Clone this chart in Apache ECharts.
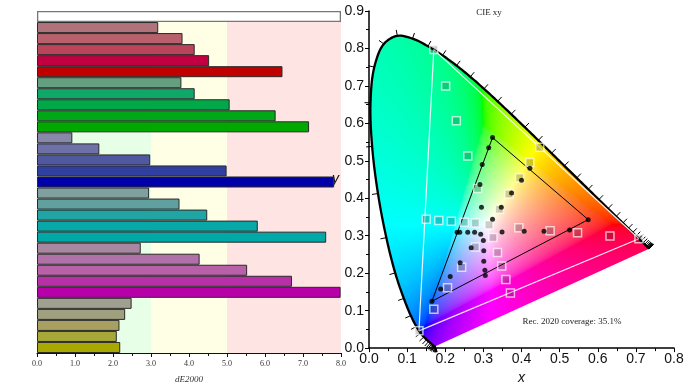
<!DOCTYPE html>
<html><head><meta charset="utf-8">
<script src="https://cdn.jsdelivr.net/npm/echarts@6/dist/echarts.min.js"></script>
<style>html,body{margin:0;padding:0;background:#fff}#c{width:693px;height:390px}</style>
</head><body><div id="c"></div>
<script>
// ---------------- DATA ----------------
const categories = ['White',
  'Red 20%','Red 40%','Red 60%','Red 80%','Red 100%',
  'Green 20%','Green 40%','Green 60%','Green 80%','Green 100%',
  'Blue 20%','Blue 40%','Blue 60%','Blue 80%','Blue 100%',
  'Cyan 20%','Cyan 40%','Cyan 60%','Cyan 80%','Cyan 100%',
  'Magenta 20%','Magenta 40%','Magenta 60%','Magenta 80%','Magenta 100%',
  'Yellow 20%','Yellow 40%','Yellow 60%','Yellow 80%','Yellow 100%'];
const dE2000 = [8.0,
  3.19, 3.83, 4.15, 4.53, 6.46,
  3.80, 4.15, 5.07, 6.28, 7.16,
  0.93, 1.64, 2.98, 4.99, 7.82,
  2.95, 3.75, 4.48, 5.81, 7.61,
  2.73, 4.28, 5.53, 6.71, 7.99,
  2.49, 2.32, 2.17, 2.10, 2.19];
const dEBandStart = [0, 3, 5];
const dEBandEnd = [3, 5, 8];
const dETicks = [0, 1, 2, 3, 4, 5, 6, 7, 8];

// CIE 1931 spectral locus, 380-700 nm every 5 nm
const locusNm = [380,385,390,395,400,405,410,415,420,425,430,435,440,445,450,455,460,465,470,475,480,485,490,495,500,505,510,515,520,525,530,535,540,545,550,555,560,565,570,575,580,585,590,595,600,605,610,615,620,625,630,635,640,645,650,655,660,665,670,675,680,685,690,695,700];
const locusX = [0.1741,0.1740,0.1738,0.1736,0.1733,0.1730,0.1726,0.1721,0.1714,0.1703,0.1689,0.1669,0.1644,0.1611,0.1566,0.1510,0.1440,0.1355,0.1241,0.1096,0.0913,0.0687,0.0454,0.0235,0.0082,0.0039,0.0139,0.0389,0.0743,0.1142,0.1547,0.1929,0.2296,0.2658,0.3016,0.3373,0.3731,0.4087,0.4441,0.4788,0.5125,0.5448,0.5752,0.6029,0.6270,0.6482,0.6658,0.6801,0.6915,0.7006,0.7079,0.7140,0.7190,0.7230,0.7260,0.7283,0.7300,0.7311,0.7320,0.7327,0.7334,0.7340,0.7344,0.7346,0.7347];
const locusY = [0.0050,0.0050,0.0049,0.0049,0.0048,0.0048,0.0048,0.0048,0.0051,0.0058,0.0069,0.0086,0.0109,0.0138,0.0177,0.0227,0.0297,0.0399,0.0578,0.0868,0.1327,0.2007,0.2950,0.4127,0.5384,0.6548,0.7502,0.8120,0.8338,0.8262,0.8059,0.7816,0.7543,0.7243,0.6923,0.6589,0.6245,0.5896,0.5547,0.5202,0.4866,0.4544,0.4242,0.3965,0.3725,0.3514,0.3340,0.3197,0.3083,0.2993,0.2920,0.2859,0.2809,0.2770,0.2740,0.2717,0.2700,0.2689,0.2680,0.2673,0.2666,0.2660,0.2656,0.2654,0.2653];

// Rec. 2020 primaries (closed triangle)
const rec2020X = [0.708, 0.170, 0.131, 0.708];
const rec2020Y = [0.292, 0.797, 0.046, 0.292];

// Targets (squares): white, red, green, blue, cyan, magenta, yellow sweeps
const targetX = [0.3147,
  0.393, 0.475, 0.547, 0.632, 0.708,
  0.285, 0.259, 0.229, 0.201, 0.170,
  0.279, 0.243, 0.206, 0.170, 0.131,
  0.279, 0.250, 0.216, 0.183, 0.150,
  0.325, 0.337, 0.348, 0.359, 0.371,
  0.342, 0.367, 0.395, 0.4215, 0.448];
const targetY = [0.329,
  0.321, 0.313, 0.308, 0.299, 0.292,
  0.426, 0.513, 0.607, 0.700, 0.797,
  0.270, 0.216, 0.161, 0.104, 0.046,
  0.334, 0.336, 0.339, 0.341, 0.344,
  0.295, 0.255, 0.219, 0.183, 0.147,
  0.371, 0.4116, 0.4545, 0.4958, 0.536];

// Measured (dots)
const measuredX = [
  0.349, 0.407, 0.459, 0.526, 0.575,
  0.295, 0.291, 0.297, 0.314, 0.324,
  0.268, 0.239, 0.213, 0.188, 0.165,
  0.293, 0.277, 0.259, 0.238, 0.231,
  0.300, 0.301, 0.301, 0.304, 0.305,
  0.324, 0.347, 0.374, 0.400, 0.422];
const measuredY = [
  0.310, 0.312, 0.312, 0.315, 0.343,
  0.376, 0.437, 0.490, 0.535, 0.562,
  0.268, 0.228, 0.191, 0.158, 0.125,
  0.304, 0.309, 0.309, 0.309, 0.309,
  0.287, 0.260, 0.232, 0.208, 0.194,
  0.344, 0.376, 0.414, 0.448, 0.480];

// Measured gamut triangle (blue -> green -> red -> blue)
const gamutX = [0.165, 0.324, 0.575, 0.165];
const gamutY = [0.125, 0.562, 0.343, 0.125];

const xTicksCIE = [0, 0.1, 0.2, 0.3, 0.4, 0.5, 0.6, 0.7, 0.8];
const yTicksCIE = [0, 0.1, 0.2, 0.3, 0.4, 0.5, 0.6, 0.7, 0.8, 0.9];
const chartTitle = 'CIE xy';
const coverageText = 'Rec. 2020 coverage: 35.1%';

// ---------------- STYLES ----------------
const barColors = ['#ffffff',
  '#b0737b','#b8606c','#bb445a','#c00040','#c00000',
  '#64a080','#10a868','#00a848','#00a818','#00a800',
  '#8888a8','#6e70a8','#5058a0','#3040a0','#0000a8',
  '#80a0a0','#60a0a0','#20a4a4','#08a8a8','#00a8a8',
  '#a888a0','#b070a8','#b860a8','#b830a8','#b800a8',
  '#a0a090','#a0a080','#a8a060','#a8a838','#a8a800'];
const bandColors = ['#e6ffe6', '#ffffe6', '#ffe4e4'];
const SERIF = '"Liberation Serif","Times New Roman",serif';
const SANS = '"Liberation Sans",Arial,sans-serif';

// ---------------- HELPERS ----------------
function zip(a, b) { return a.map((v, i) => [v, b[i]]); }
function xyToRGB(x, y) {
  const X = x / y, Y = 1, Z = (1 - x - y) / y;
  let r = 3.2406 * X - 1.5372 * Y - 0.4986 * Z;
  let g = -0.9689 * X + 1.8758 * Y + 0.0415 * Z;
  let b = 0.0557 * X - 0.2040 * Y + 1.0570 * Z;
  const m = Math.min(r, g, b);
  if (m < 0) { r -= m; g -= m; b -= m; }
  const M = Math.max(r, g, b) || 1;
  const gam = v => v <= 0.0031308 ? 12.92 * v : 1.055 * Math.pow(v, 1 / 2.4) - 0.055;
  return [gam(r / M) * 255, gam(g / M) * 255, gam(b / M) * 255];
}
// centripetal Catmull-Rom smoothing of pixel points (rendering only)
function smoothPath(pts, seg) {
  const n = pts.length, out = [];
  const P = i => {
    if (i < 0) return [2 * pts[0][0] - pts[1][0], 2 * pts[0][1] - pts[1][1]];
    if (i >= n) return [2 * pts[n - 1][0] - pts[n - 2][0], 2 * pts[n - 1][1] - pts[n - 2][1]];
    return pts[i];
  };
  const td = (a, b) => Math.pow(Math.max(Math.hypot(b[0] - a[0], b[1] - a[1]), 1e-4), 0.5);
  const lerp = (a, b, ta, tb, t) => [
    ((tb - t) * a[0] + (t - ta) * b[0]) / (tb - ta),
    ((tb - t) * a[1] + (t - ta) * b[1]) / (tb - ta)];
  for (let i = 0; i < n - 1; i++) {
    const p0 = P(i - 1), p1 = P(i), p2 = P(i + 1), p3 = P(i + 2);
    const t0 = 0, t1 = t0 + td(p0, p1), t2 = t1 + td(p1, p2), t3 = t2 + td(p2, p3);
    for (let s = 0; s < seg; s++) {
      const t = t1 + (t2 - t1) * s / seg;
      const A1 = lerp(p0, p1, t0, t1, t), A2 = lerp(p1, p2, t1, t2, t), A3 = lerp(p2, p3, t2, t3, t);
      const B1 = lerp(A1, A2, t0, t2, t), B2 = lerp(A2, A3, t1, t3, t);
      out.push(lerp(B1, B2, t1, t2, t));
    }
  }
  out.push(pts[n - 1]);
  return out;
}
let fillCache = null;
function buildFill(w, h, dense, ox, oy) {
  const tmp = document.createElement('canvas');
  tmp.width = w; tmp.height = h;
  const tctx = tmp.getContext('2d');
  const img = tctx.createImageData(w, h);
  for (let j = 0; j < h; j++) {
    const y = Math.max(0.9 * (1 - (j + 0.5) / h), 0.002);
    for (let i = 0; i < w; i++) {
      const x = 0.8 * (i + 0.5) / w;
      const k = (j * w + i) * 4;
      const c = xyToRGB(x, y);
      img.data[k] = c[0]; img.data[k + 1] = c[1]; img.data[k + 2] = c[2]; img.data[k + 3] = 255;
    }
  }
  tctx.putImageData(img, 0, 0);
  const cv = document.createElement('canvas');
  cv.width = w; cv.height = h;
  const ctx = cv.getContext('2d');
  ctx.beginPath();
  dense.forEach((p, i) => i ? ctx.lineTo(p[0] - ox, p[1] - oy) : ctx.moveTo(p[0] - ox, p[1] - oy));
  ctx.closePath();
  ctx.clip();
  ctx.drawImage(tmp, 0, 0);
  return cv;
}

// ---------------- CHART ----------------
const chart = echarts.init(document.getElementById('c'), null, { renderer: 'canvas' });
const option = {
  animation: false,
  backgroundColor: '#fff',
  grid: [
    { left: 37, top: 11, width: 304, height: 342 },
    { left: 369, top: 11, width: 305, height: 342 }
  ],
  xAxis: [
    {
      gridIndex: 0, type: 'value', min: dETicks[0], max: dETicks[dETicks.length - 1], interval: 1,
      name: 'dE2000', nameLocation: 'middle', nameGap: 22,
      nameTextStyle: { fontFamily: SERIF, fontStyle: 'italic', fontSize: 9, color: '#333' },
      axisLine: { show: true, lineStyle: { color: '#111', width: 1.2 } },
      axisTick: { show: true, inside: false, length: 4, lineStyle: { color: '#111' } },
      minorTick: { show: true, splitNumber: 2, length: 3, lineStyle: { color: '#111' } },
      axisLabel: { fontFamily: SERIF, fontSize: 8, color: '#333', margin: 7, formatter: v => v.toFixed(1) },
      splitLine: { show: false }
    },
    {
      gridIndex: 1, type: 'value', min: xTicksCIE[0], max: xTicksCIE[xTicksCIE.length - 1], interval: 0.1,
      name: 'x', nameLocation: 'middle', nameGap: 18,
      nameTextStyle: { fontFamily: SANS, fontStyle: 'italic', fontSize: 14, color: '#111' },
      axisLine: { show: true, onZero: false, lineStyle: { color: '#000', width: 1.5 } },
      axisTick: { show: true, inside: false, length: 4, lineStyle: { color: '#000' } },
      minorTick: { show: true, splitNumber: 2, length: 3, lineStyle: { color: '#000' } },
      axisLabel: { fontFamily: SANS, fontSize: 14, color: '#111', margin: 4, formatter: v => v.toFixed(1) },
      splitLine: { show: false }
    }
  ],
  yAxis: [
    {
      gridIndex: 0, type: 'category', data: categories, inverse: true,
      axisLine: { show: false }, axisTick: { show: false }, axisLabel: { show: false }, splitLine: { show: false }
    },
    {
      gridIndex: 1, type: 'value', min: yTicksCIE[0], max: yTicksCIE[yTicksCIE.length - 1], interval: 0.1,
      name: 'y', nameLocation: 'middle', nameGap: 30, nameRotate: 0,
      nameTextStyle: { fontFamily: SANS, fontStyle: 'italic', fontSize: 14, color: '#111' },
      axisLine: { show: true, onZero: false, lineStyle: { color: '#000', width: 1.5 } },
      axisTick: { show: true, inside: false, length: 4, lineStyle: { color: '#000' } },
      minorTick: { show: true, splitNumber: 2, length: 3, lineStyle: { color: '#000' } },
      axisLabel: { fontFamily: SANS, fontSize: 14, color: '#111', margin: 5, formatter: v => v.toFixed(1) },
      splitLine: { show: false }
    }
  ],
  graphic: [
    { type: 'text', x: 489, y: 13, style: { text: chartTitle, font: '9px ' + SERIF, fill: '#222', align: 'center', verticalAlign: 'middle' } },
    { type: 'text', x: 572, y: 322, style: { text: coverageText, font: '9px ' + SERIF, fill: '#222', align: 'center', verticalAlign: 'middle' } }
  ],
  series: [
    // dE bands
    {
      type: 'custom', xAxisIndex: 0, yAxisIndex: 0, z: 0, silent: true,
      data: dEBandStart.map((s, i) => [s, dEBandEnd[i], i]),
      renderItem: (params, api) => {
        const cs = params.coordSys;
        const x0 = api.coord([api.value(0), 0])[0];
        const x1 = api.coord([api.value(1), 0])[0];
        return { type: 'rect', shape: { x: x0, y: cs.y, width: x1 - x0, height: cs.height },
          style: { fill: bandColors[api.value(2)] } };
      }
    },
    // bars
    {
      type: 'bar', xAxisIndex: 0, yAxisIndex: 0, z: 2, barCategoryGap: '0%',
      data: dE2000.map((v, i) => ({
        value: v,
        itemStyle: { color: barColors[i], borderColor: i === 0 ? '#777' : '#2a2a2a', borderWidth: i === 0 ? 1.3 : 1 }
      }))
    },
    // chromaticity fill + spectral locus outline
    {
      type: 'custom', xAxisIndex: 1, yAxisIndex: 1, z: 1, silent: true, clip: false,
      data: [[0, 0]],
      renderItem: (params, api) => {
        const p0 = api.coord([0, 0.9]), p1 = api.coord([0.8, 0]);
        const w = Math.round(p1[0] - p0[0]), h = Math.round(p1[1] - p0[1]);
        const pts = locusX.map((x, i) => api.coord([x, locusY[i]]));
        const dense = smoothPath(pts, 8);
        if (!fillCache || fillCache.width !== w || fillCache.height !== h) fillCache = buildFill(w, h, dense, p0[0], p0[1]);
        return { type: 'group', children: [
          { type: 'image', style: { image: fillCache, x: p0[0], y: p0[1], width: w, height: h } },
          { type: 'polyline', shape: { points: dense }, style: { stroke: '#000', lineWidth: 2.3, fill: null } }
        ] };
      }
    },
    // locus wavelength ticks
    {
      type: 'custom', xAxisIndex: 1, yAxisIndex: 1, z: 3, silent: true, clip: false,
      data: locusX.map((x, i) => [x, locusY[i], i]),
      renderItem: (params, api) => {
        const i = api.value(2);
        const p = api.coord([api.value(0), api.value(1)]);
        const a = api.coord([locusX[Math.max(0, i - 1)], locusY[Math.max(0, i - 1)]]);
        const b = api.coord([locusX[Math.min(locusX.length - 1, i + 1)], locusY[Math.min(locusX.length - 1, i + 1)]]);
        let tx = b[0] - a[0], ty = b[1] - a[1];
        const L = Math.hypot(tx, ty) || 1; tx /= L; ty /= L;
        let nx = -ty, ny = tx;
        const wp = api.coord([0.33, 0.33]);
        if (nx * (p[0] - wp[0]) + ny * (p[1] - wp[1]) < 0) { nx = -nx; ny = -ny; }
        return { type: 'line', shape: { x1: p[0], y1: p[1], x2: p[0] + nx * 6, y2: p[1] + ny * 6 },
          style: { stroke: '#000', lineWidth: 1 } };
      }
    },
    // Rec 2020 triangle
    {
      type: 'line', xAxisIndex: 1, yAxisIndex: 1, z: 4, silent: true, symbol: 'none',
      data: zip(rec2020X, rec2020Y), lineStyle: { color: 'rgba(255,255,255,0.9)', width: 1.2 }
    },
    // measured gamut triangle
    {
      type: 'line', xAxisIndex: 1, yAxisIndex: 1, z: 5, silent: true, symbol: 'none',
      data: zip(gamutX, gamutY), lineStyle: { color: '#000', width: 1 }
    },
    // targets
    {
      type: 'scatter', xAxisIndex: 1, yAxisIndex: 1, z: 6, silent: true, symbol: 'rect', symbolSize: 8,
      data: zip(targetX, targetY),
      itemStyle: { color: 'rgba(40,40,40,0.28)', borderColor: 'rgba(255,255,255,0.85)', borderWidth: 1.5 }
    },
    // measured
    {
      type: 'scatter', xAxisIndex: 1, yAxisIndex: 1, z: 7, silent: true, symbol: 'circle', symbolSize: 5,
      data: zip(measuredX, measuredY), itemStyle: { color: '#000' }
    }
  ]
};
chart.setOption(option);
</script>
</body></html>
